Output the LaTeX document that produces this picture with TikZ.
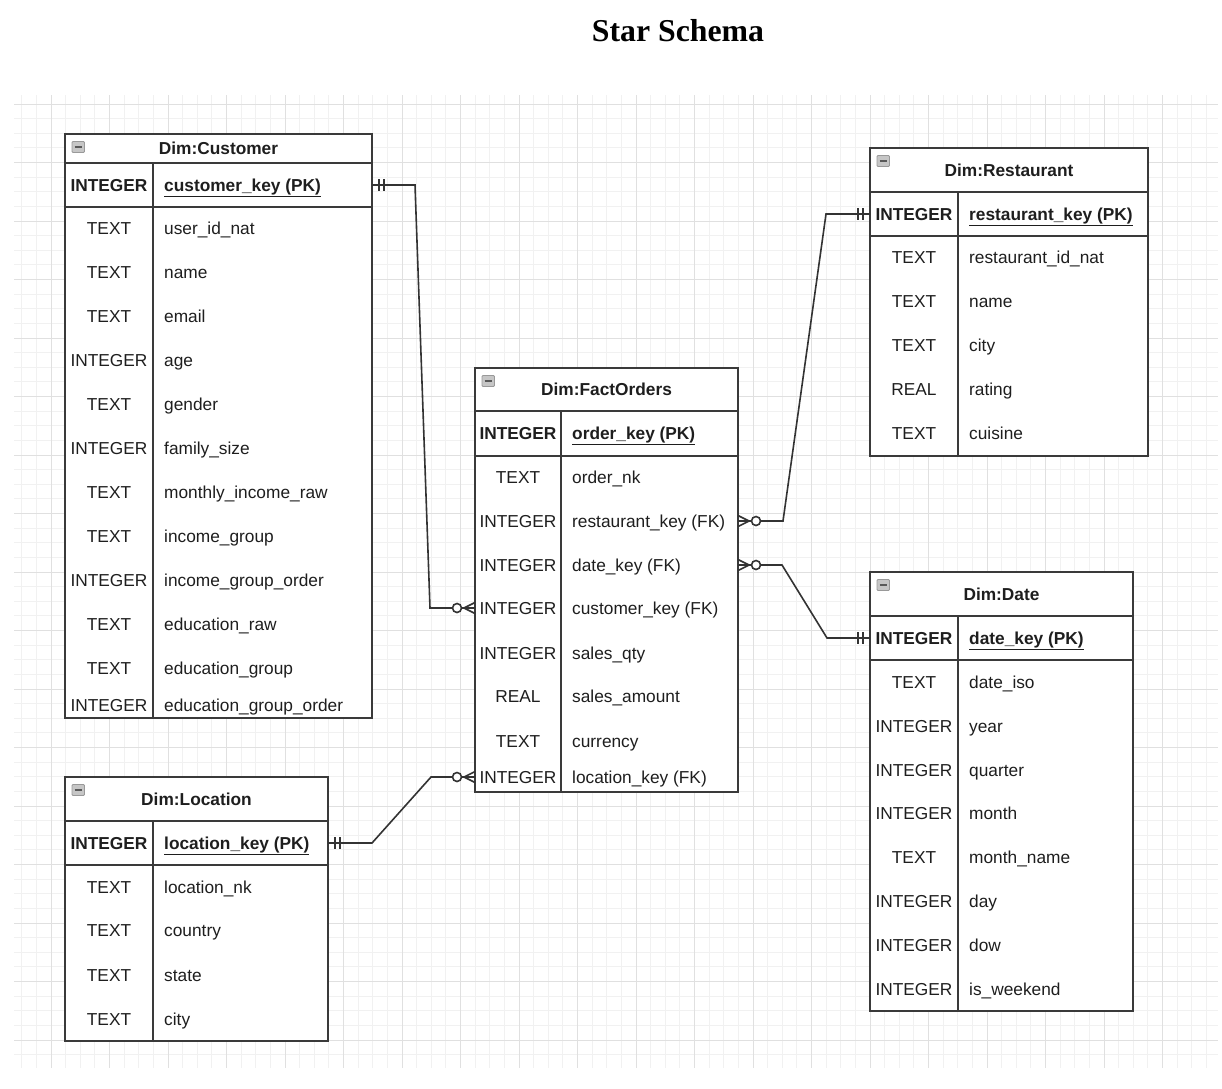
\documentclass[tikz,border=0pt]{standalone}
\usepackage{fontspec}
\setmainfont{Liberation Sans}
\newfontfamily\titleserif{Liberation Serif}
\definecolor{gridminor}{HTML}{F1F1F1}
\definecolor{gridmajor}{HTML}{E0E0E0}
\definecolor{tlinec}{HTML}{3A3A3A}
\definecolor{txtc}{HTML}{1E1E1E}
\definecolor{connc}{HTML}{333333}

\newcommand{\erframe}[8]{% name, L, D, R, T, TB, PB, B
  \node[tablebox, minimum width={(#4-#2)*1pt}, minimum height={(#8-#5)*1pt}] (#1) at ({(#2+#4)/2},{(#5+#8)/2}) {};
  \draw[tline] (#2,#6) -- (#4,#6);
  \draw[tline] (#2,#7) -- (#4,#7);
  \draw[tline] (#3,#6) -- (#3,#8);
  \draw[iconbox] ({#2+7},{#5+7.5}) rectangle ({#2+19.5},{#5+18.5});
  \draw[iconbar] ({#2+9.5},{#5+13}) -- ({#2+17},{#5+13});
}
\newcommand{\erow}[7]{% name, L, D, R, y, type, field
  \node[rowcell, minimum width={(#4-#2)*1pt}] (#1) at ({(#2+#4)/2},#5) {};
  \node[typetxt] (#1-t) at ({(#2+#3)/2},#5) {#6};
  \node[fieldtxt] (#1-f) at ({#3+11},#5) {#7};
}
\newcommand{\pkrow}[7]{% name, L, D, R, y, type, field
  \node[rowcell, minimum width={(#4-#2)*1pt}] (#1) at ({(#2+#4)/2},#5) {};
  \node[typetxt, font=\fontsize{17.3}{20}\selectfont\bfseries] (#1-t) at ({(#2+#3)/2},#5) {#6};
  \node[fieldtxt, font=\fontsize{17.3}{20}\selectfont\bfseries] (#1-f) at ({#3+11},#5) {\underline{#7}};
}

\begin{document}
\begin{tikzpicture}[x=1pt,y=-1pt,
  tablebox/.style={rectangle, draw=tlinec, line width=1.8pt, fill=white, inner sep=0pt, outer sep=0pt},
  tline/.style={draw=tlinec, line width=1.8pt},
  iconbox/.style={draw=gray!80, fill=gray!45, line width=0.8pt, rounded corners=1pt},
  iconbar/.style={draw=black!65, line width=1.3pt},
  rowcell/.style={rectangle, inner sep=0pt, outer sep=0pt, minimum height=44pt},
  typetxt/.style={anchor=mid, inner sep=0pt, yshift=-3.5pt, text=txtc, font=\fontsize{17.3}{20}\selectfont},
  fieldtxt/.style={anchor=mid west, inner sep=0pt, yshift=-3.5pt, text=txtc, font=\fontsize{17.3}{20}\selectfont},
  titletxt/.style={anchor=mid, inner sep=0pt, yshift=-3.5pt, text=txtc, font=\fontsize{17.3}{20}\selectfont\bfseries},
  conn/.style={draw=connc, line width=1.6pt},
  gmin/.style={draw=gridminor, line width=0.8pt},
  gmaj/.style={draw=gridmajor, line width=1pt}
]
\useasboundingbox (0,0) rectangle (1222,1088);
\fill[white] (0,0) rectangle (1222,1088);

% grid
\begin{scope}
  \clip (14,95) rectangle (1218,1068);
  \foreach \i in {-3,...,80} \draw[gmin] ({51+14.625*\i},95) -- ({51+14.625*\i},1068);
  \foreach \j in {-1,...,67} \draw[gmin] (14,{104+14.625*\j}) -- (1218,{104+14.625*\j});
  \foreach \i in {0,...,20} \draw[gmaj] ({51+58.5*\i},95) -- ({51+58.5*\i},1068);
  \foreach \j in {0,...,16} \draw[gmaj] (14,{104+58.5*\j}) -- (1218,{104+58.5*\j});
\end{scope}

% title
\node[anchor=base, inner sep=0pt, text=black, font=\titleserif\bfseries\fontsize{31.8}{36}\selectfont] (title) at (678,41.5) {Star Schema};

% ---------- Dim:Customer ----------
\erframe{cust}{65}{153}{372}{134}{163}{207}{718}
\node[titletxt] (cust-title) at (218.5,148.5) {Dim:Customer};
\pkrow{c-pk}{65}{153}{372}{185}{INTEGER}{customer\_key (PK)}
\erow{c-1}{65}{153}{372}{228}{TEXT}{user\_id\_nat}
\erow{c-2}{65}{153}{372}{272}{TEXT}{name}
\erow{c-3}{65}{153}{372}{316}{TEXT}{email}
\erow{c-4}{65}{153}{372}{360}{INTEGER}{age}
\erow{c-5}{65}{153}{372}{404}{TEXT}{gender}
\erow{c-6}{65}{153}{372}{448}{INTEGER}{family\_size}
\erow{c-7}{65}{153}{372}{492}{TEXT}{monthly\_income\_raw}
\erow{c-8}{65}{153}{372}{536}{TEXT}{income\_group}
\erow{c-9}{65}{153}{372}{580}{INTEGER}{income\_group\_order}
\erow{c-10}{65}{153}{372}{624}{TEXT}{education\_raw}
\erow{c-11}{65}{153}{372}{668}{TEXT}{education\_group}
\erow{c-12}{65}{153}{372}{705}{INTEGER}{education\_group\_order}

% ---------- Dim:FactOrders ----------
\erframe{fact}{475}{561}{738}{368}{411}{456}{792}
\node[titletxt] (fact-title) at (606.5,389.5) {Dim:FactOrders};
\pkrow{f-pk}{475}{561}{738}{433.5}{INTEGER}{order\_key (PK)}
\erow{f-nk}{475}{561}{738}{477}{TEXT}{order\_nk}
\erow{f-rest}{475}{561}{738}{521}{INTEGER}{restaurant\_key (FK)}
\erow{f-date}{475}{561}{738}{565}{INTEGER}{date\_key (FK)}
\erow{f-cust}{475}{561}{738}{608}{INTEGER}{customer\_key (FK)}
\erow{f-qty}{475}{561}{738}{653}{INTEGER}{sales\_qty}
\erow{f-amt}{475}{561}{738}{696}{REAL}{sales\_amount}
\erow{f-cur}{475}{561}{738}{741}{TEXT}{currency}
\erow{f-loc}{475}{561}{738}{777}{INTEGER}{location\_key (FK)}

% ---------- Dim:Restaurant ----------
\erframe{rest}{870}{958}{1148}{148}{192}{236}{456}
\node[titletxt] (rest-title) at (1009,170) {Dim:Restaurant};
\pkrow{r-pk}{870}{958}{1148}{214}{INTEGER}{restaurant\_key (PK)}
\erow{r-1}{870}{958}{1148}{257}{TEXT}{restaurant\_id\_nat}
\erow{r-2}{870}{958}{1148}{301}{TEXT}{name}
\erow{r-3}{870}{958}{1148}{345}{TEXT}{city}
\erow{r-4}{870}{958}{1148}{389}{REAL}{rating}
\erow{r-5}{870}{958}{1148}{433}{TEXT}{cuisine}

% ---------- Dim:Date ----------
\erframe{date}{870}{958}{1133}{572}{616}{660}{1011}
\node[titletxt] (date-title) at (1001.5,594) {Dim:Date};
\pkrow{d-pk}{870}{958}{1133}{638}{INTEGER}{date\_key (PK)}
\erow{d-1}{870}{958}{1133}{682}{TEXT}{date\_iso}
\erow{d-2}{870}{958}{1133}{726}{INTEGER}{year}
\erow{d-3}{870}{958}{1133}{770}{INTEGER}{quarter}
\erow{d-4}{870}{958}{1133}{813}{INTEGER}{month}
\erow{d-5}{870}{958}{1133}{857}{TEXT}{month\_name}
\erow{d-6}{870}{958}{1133}{901}{INTEGER}{day}
\erow{d-7}{870}{958}{1133}{945}{INTEGER}{dow}
\erow{d-8}{870}{958}{1133}{989}{INTEGER}{is\_weekend}

% ---------- Dim:Location ----------
\erframe{loc}{65}{153}{328}{777}{821}{865}{1041}
\node[titletxt] (loc-title) at (196.5,799) {Dim:Location};
\pkrow{l-pk}{65}{153}{328}{843}{INTEGER}{location\_key (PK)}
\erow{l-1}{65}{153}{328}{887}{TEXT}{location\_nk}
\erow{l-2}{65}{153}{328}{930}{TEXT}{country}
\erow{l-3}{65}{153}{328}{975}{TEXT}{state}
\erow{l-4}{65}{153}{328}{1019}{TEXT}{city}

% ---------- connectors ----------
\coordinate (b1a) at (415,185);
\coordinate (b1b) at (430,608);
\draw[conn] (c-pk.east) -- (b1a) -- (b1b) -- (f-cust.west);

\coordinate (b2a) at (783,521);
\coordinate (b2b) at (826,214);
\draw[conn] (f-rest.east) -- (b2a) -- (b2b) -- (r-pk.west);

\coordinate (b3a) at (782,565);
\coordinate (b3b) at (827,638);
\draw[conn] (f-date.east) -- (b3a) -- (b3b) -- (d-pk.west);

\coordinate (b4a) at (372,843);
\coordinate (b4b) at (431,777);
\draw[conn] (l-pk.east) -- (b4a) -- (b4b) -- (f-loc.west);

% one-and-only-one marks
\foreach \a/\s in {c-pk.east/1, l-pk.east/1, r-pk.west/-1, d-pk.west/-1}{
  \draw[conn] ([xshift={\s*7pt},yshift=6pt]\a) -- ([xshift={\s*7pt},yshift=-6pt]\a);
  \draw[conn] ([xshift={\s*12pt},yshift=6pt]\a) -- ([xshift={\s*12pt},yshift=-6pt]\a);
}
% zero-or-many marks
\foreach \a/\s in {f-cust.west/-1, f-loc.west/-1, f-rest.east/1, f-date.east/1}{
  \draw[conn] ([xshift={\s*11pt}]\a) -- ([yshift=5.5pt]\a);
  \draw[conn] ([xshift={\s*11pt}]\a) -- ([yshift=-5.5pt]\a);
  \draw[conn, fill=white] ([xshift={\s*18pt}]\a) circle[radius=4.5pt];
}
\end{tikzpicture}
\end{document}
